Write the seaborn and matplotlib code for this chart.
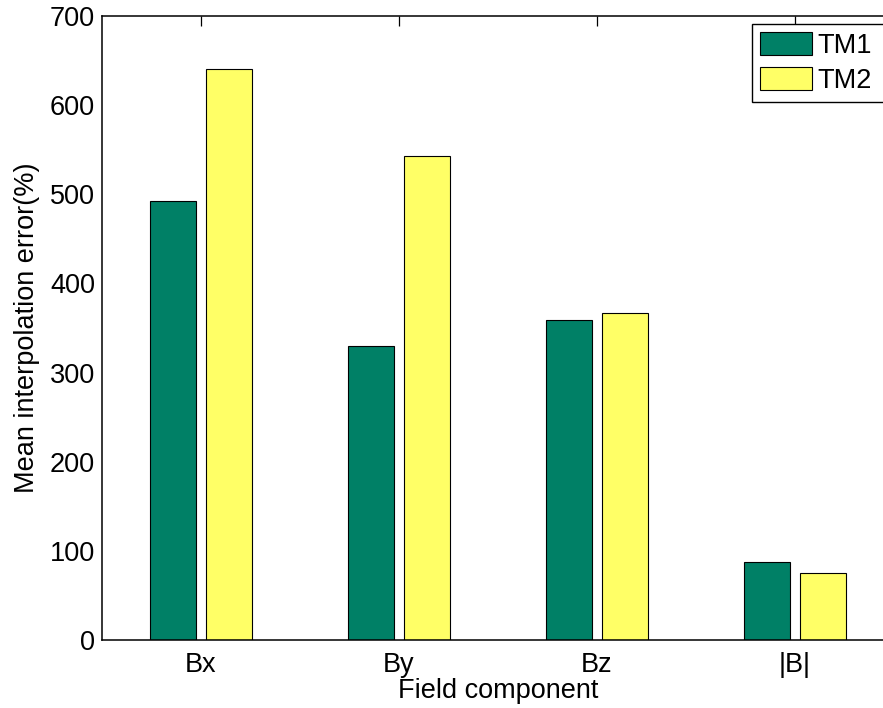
import pandas as pd
import seaborn as sns
import matplotlib.pyplot as plt

components = ['Bx', 'By', 'Bz', '|B|']
tm1_error = [493, 330, 359, 88]
tm2_error = [640, 543, 367, 75]
models = ['TM1', 'TM2']

df = pd.DataFrame({
    'component': components * 2,
    'error': tm1_error + tm2_error,
    'model': [models[0]] * len(components) + [models[1]] * len(components),
})

sns.set_style('white')
plt.rcParams['font.family'] = ['Liberation Sans', 'DejaVu Sans']
plt.rcParams['text.color'] = 'black'
plt.rcParams['axes.labelcolor'] = 'black'
plt.rcParams['xtick.color'] = 'black'
plt.rcParams['ytick.color'] = 'black'

fig = plt.figure(figsize=(8.83, 7.08), dpi=100)
# the original axes runs past the right edge of the picture
ax = fig.add_axes([102 / 883, 68 / 708, 792 / 883, 624 / 708])

sns.barplot(data=df, x='component', y='error', hue='model', ax=ax,
            palette=['#008066', '#ffff66'], width=0.572, gap=0.19,
            edgecolor='black', linewidth=0.8, saturation=1, legend=False)

ax.set_xlim(-0.5, 3.5)
ax.set_ylim(0, 700)
ax.set_yticks(range(0, 701, 100))
ax.set_xlabel('Field component', fontsize=19.5, labelpad=0)
ax.set_ylabel('Mean interpolation error(%)', fontsize=19.5, labelpad=7)
ax.tick_params(direction='in', top=True, right=False, length=7, width=0.9,
               labelsize=19.5, color='black')
ax.tick_params(axis='x', pad=9)
ax.tick_params(axis='y', pad=5)
for name, side in ax.spines.items():
    side.set_visible(name != 'right')
    side.set_color('black')
    side.set_linewidth(1.1)

handles = [plt.Rectangle((0, 0), 1, 1, facecolor=c, edgecolor='black', linewidth=0.8)
           for c in ['#008066', '#ffff66']]
ax.legend(handles, models, loc='upper left',
          bbox_to_anchor=(752 / 883, 1 - 24 / 708, 150 / 883, 0),
          bbox_transform=fig.transFigure, mode='expand', borderaxespad=0,
          fontsize=19.5, frameon=True, fancybox=False, edgecolor='black',
          framealpha=1, handlelength=1.93, handleheight=0.93,
          handletextpad=0.2, labelspacing=0.3, borderpad=0.3)

fig.savefig('out.png', dpi=100)
